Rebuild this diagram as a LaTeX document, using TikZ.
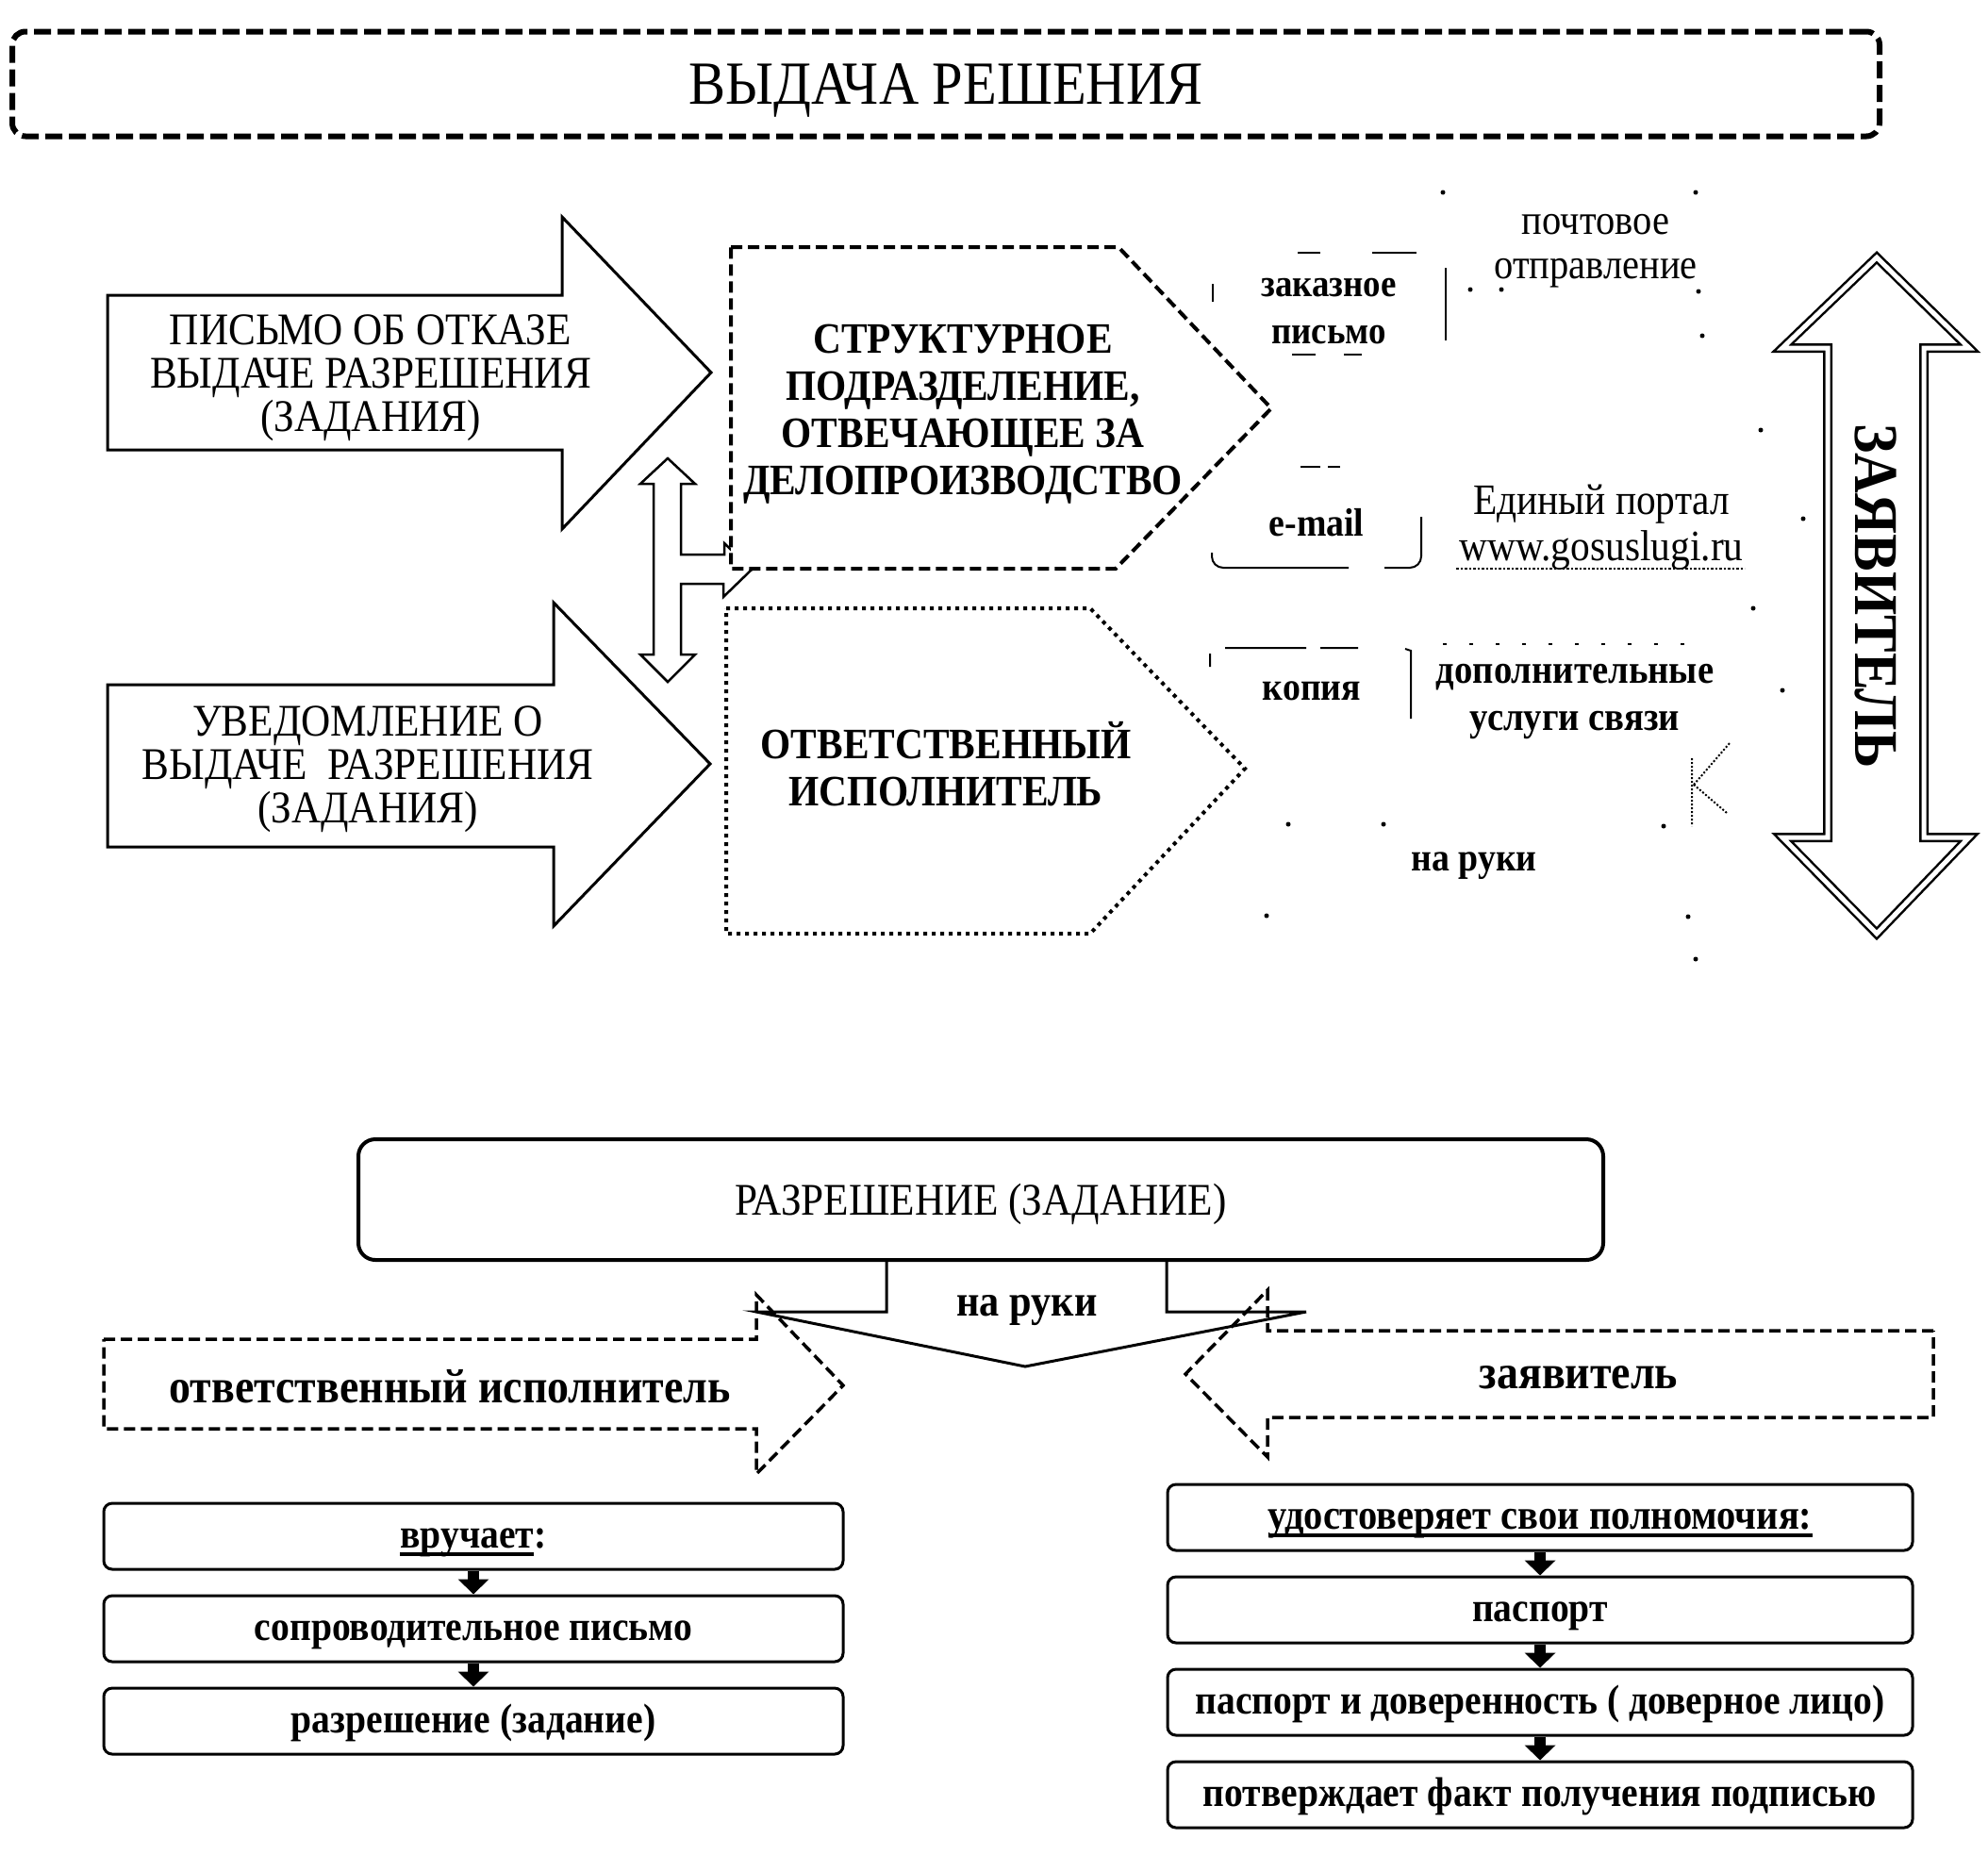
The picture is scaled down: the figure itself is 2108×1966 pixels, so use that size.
\documentclass[tikz,border=0pt]{standalone}
\usepackage{fontspec}
\setmainfont{Liberation Serif}[FakeStretch=0.9]
\usepackage{tikz}
\usetikzlibrary{positioning,arrows.meta}

\newcommand{\fsize}[2]{\fontsize{#1pt}{#2pt}\selectfont}
\newcommand{\heavyul}[1]{\setbox0\hbox{#1}\rlap{\raisebox{-8pt}{\rule{\wd0}{3.5pt}}}\box0}

\begin{document}
\begin{tikzpicture}[
    x=1pt, y=-1pt,
    node distance=25pt,
    txt/.style={align=center, inner sep=0pt},
    outline/.style={draw, line width=3pt},
    frag/.style={line width=2pt},
    listbox/.style={draw, line width=3pt, rounded corners=9pt, minimum height=70pt, inner sep=0pt, text height=33pt, text depth=8pt, font=\fsize{44}{50}\bfseries},
    down/.style={line width=12pt, -{Triangle[length=16pt, width=32pt]}}
]
\useasboundingbox (0,0) rectangle (2108,1966);

% header
\node[draw, line width=6pt, dash pattern=on 18pt off 7pt, rounded corners=14pt, minimum width=1980pt, minimum height=111pt, text depth=0pt, font=\fsize{65}{65}] (title) at (1003,89) {ВЫДАЧА РЕШЕНИЯ};

% documents going out
\draw[outline] (114,313) -- (596,313) -- (596,230) -- (754,395) -- (596,561) -- (596,477) -- (114,477) -- cycle;
\node[txt, font=\fsize{48}{46}] (refusal) at (393,401) {ПИСЬМО ОБ ОТКАЗЕ\\ВЫДАЧЕ РАЗРЕШЕНИЯ\\(ЗАДАНИЯ)};
\draw[outline] (114,726) -- (587,726) -- (587,639) -- (753,810) -- (587,982) -- (587,898) -- (114,898) -- cycle;
\node[txt, font=\fsize{48}{46}] (notice) at (390,816) {УВЕДОМЛЕНИЕ О\\ВЫДАЧЕ\ \ РАЗРЕШЕНИЯ\\(ЗАДАНИЯ)};

% link between the two offices
\draw[outline, line width=2.5pt] (708,486) -- (737,513) -- (722,513) -- (722,588) -- (768,588) -- (768,576) -- (797,604) -- (767,633) -- (767,619) -- (722,619) -- (722,694) -- (737,694) -- (708,723) -- (679,694) -- (693,694) -- (693,513) -- (679,513) -- cycle;

% offices
\draw[fill=white, line width=4pt, dash pattern=on 12pt off 6pt] (775,262) -- (1186,262) -- (1348,433) -- (1183,603) -- (775,603) -- cycle;
\node[txt, font=\fsize{46}{50}\bfseries] (office) at (1021,439) {СТРУКТУРНОЕ\\ПОДРАЗДЕЛЕНИЕ,\\ОТВЕЧАЮЩЕЕ ЗА\\ДЕЛОПРОИЗВОДСТВО};
\draw[line width=4pt, dash pattern=on 4pt off 5pt] (770,645) -- (1156,645) -- (1320,815) -- (1156,990) -- (770,990) -- cycle;
\node[txt, font=\fsize{46}{50}\bfseries] (executor) at (1003,810) {ОТВЕТСТВЕННЫЙ\\ИСПОЛНИТЕЛЬ};

% channels
\node[txt, font=\fsize{41}{50}\bfseries] (registered) at (1409,330) {заказное\\письмо};
\node[txt, font=\fsize{45}{47}] (post) at (1692,266) {почтовое\\отправление};
\node[txt, font=\fsize{42}{42}\bfseries] (email) at (1396,554) {e-mail};
\node[txt, font=\fsize{46}{49}] (portal) at (1698,559) {Единый портал\\www.gosuslugi.ru};
\node[txt, font=\fsize{42}{42}\bfseries] (copy) at (1391,733) {копия};
\node[txt, font=\fsize{43}{50}\bfseries] (extra) at (1670,744) {дополнительные\\услуги связи};
\node[txt, font=\fsize{42}{42}\bfseries] (inhand) at (1563,918) {на руки};
\draw[line width=2.5pt, dotted] (1544,603) -- (1850,603);

% traces of frames
\draw[frag] (1533,284) -- (1533,361) (1286,301) -- (1286,320) (1376,268) -- (1400,268) (1455,268) -- (1502,268) (1370,376) -- (1395,376) (1425,376) -- (1444,376);
\draw[frag, rounded corners=12pt] (1285,586) -- (1285,602) -- (1430,602);
\draw[frag, rounded corners=12pt] (1468,602) -- (1507,602) -- (1507,548);
\draw[frag] (1379,495) -- (1400,495) (1408,495) -- (1421,495);
\draw[frag] (1299,687) -- (1385,687) (1400,687) -- (1440,687) (1283,693) -- (1283,707) (1490,688) -- (1496,690) -- (1496,762);
\draw[frag, dotted] (1794,804) -- (1794,876) (1796,832) -- (1834,788) (1796,832) -- (1831,862);
\draw[frag, dash pattern=on 4pt off 24pt] (1530,683) -- (1800,683);
\foreach \px/\py in {1530/204, 1798/204, 1801/309, 1805/356, 1559/307, 1592/307, 1366/874, 1467/874, 1764/876, 1343/971, 1790/972, 1798/1017, 1867/456, 1912/550, 1859/645, 1890/732}
  \fill (\px,\py) circle (2.5pt);

% applicant
\draw[line width=2.5pt, double distance=5pt] (1990,273) -- (2088,369) -- (2040,369) -- (2040,888) -- (2088,888) -- (1990,990) -- (1890,888) -- (1938,888) -- (1938,369) -- (1890,369) -- cycle;
\node[txt, rotate=-90, font=\fsize{66}{66}\bfseries] (applicant) at (1989,632) {ЗАЯВИТЕЛЬ};

% permission
\node[draw, line width=4pt, rounded corners=18pt, minimum width=1320pt, minimum height=128pt, text depth=0pt, font=\fsize{48}{48}] (permission) at (1040,1272) {РАЗРЕШЕНИЕ (ЗАДАНИЕ)};
\draw[outline] (940,1336) -- (940,1391) -- (802,1391) -- (1087,1449) -- (1385,1391) -- (1237,1391) -- (1237,1336);
\node[txt, font=\fsize{47}{47}\bfseries] (handover) at (1089,1389) {на руки};

\draw[line width=3.5pt, dash pattern=on 12pt off 6pt] (110,1420) -- (802,1420) -- (802,1373) -- (894,1469) -- (802,1563) -- (802,1515) -- (110,1515) -- cycle;
\node[txt, font=\fsize{51}{51}\bfseries] (executorlbl) at (477,1470) {ответственный исполнитель};
\draw[line width=3.5pt, dash pattern=on 12pt off 6pt] (2050,1411) -- (1344,1411) -- (1344,1368) -- (1257,1457) -- (1344,1545) -- (1344,1503) -- (2050,1503) -- cycle;
\node[txt, font=\fsize{51}{51}\bfseries] (applicantlbl) at (1674,1461) {заявитель};

% steps
\node[listbox, minimum width=784pt] (hands) at (502,1629) {\heavyul{вручает}:};
\node[listbox, minimum width=784pt, below=of hands] (cover) {сопроводительное письмо};
\node[listbox, minimum width=784pt, below=of cover] (permit) {разрешение (задание)};
\draw[down] (hands) -- (cover);
\draw[down] (cover) -- (permit);

\node[listbox, minimum width=790pt, font=\fsize{45}{50}\bfseries] (proof) at (1633,1609) {\heavyul{удостоверяет свои полномочия:}};
\node[listbox, minimum width=790pt, below=of proof] (passport) {паспорт};
\node[listbox, minimum width=790pt, below=of passport] (proxy) {паспорт и доверенность ( доверное лицо)};
\node[listbox, minimum width=790pt, below=of proxy] (sign) {потверждает факт получения подписью};
\draw[down] (proof) -- (passport);
\draw[down] (passport) -- (proxy);
\draw[down] (proxy) -- (sign);

\end{tikzpicture}
\end{document}
